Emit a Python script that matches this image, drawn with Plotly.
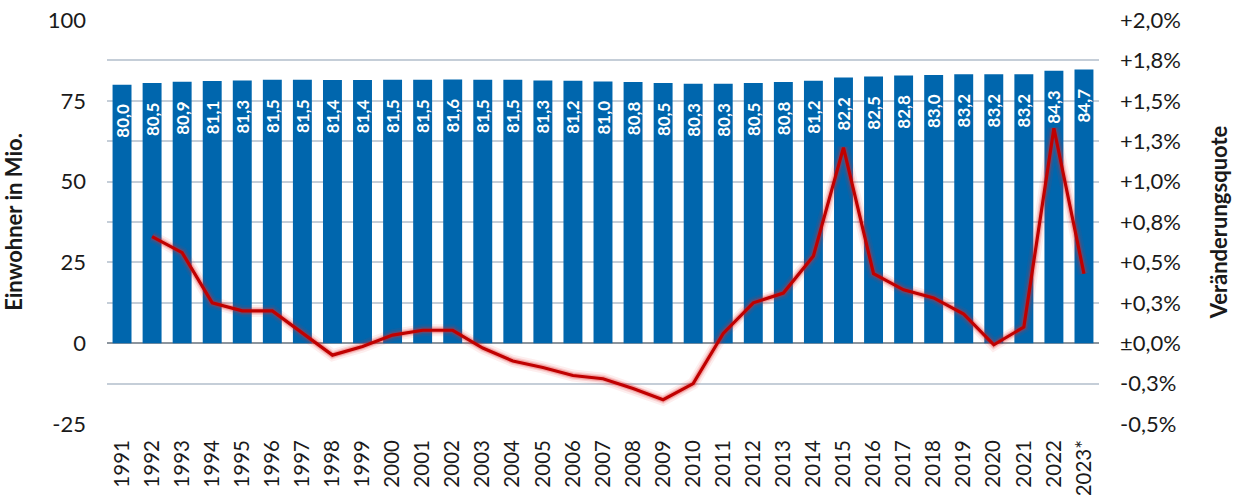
import plotly.graph_objects as go

years = ["1991","1992","1993","1994","1995","1996","1997","1998","1999","2000",
         "2001","2002","2003","2004","2005","2006","2007","2008","2009","2010",
         "2011","2012","2013","2014","2015","2016","2017","2018","2019","2020",
         "2021","2022","2023*"]
population = [80.0,80.5,80.9,81.1,81.3,81.5,81.5,81.4,81.4,81.5,
              81.5,81.6,81.5,81.5,81.3,81.2,81.0,80.8,80.5,80.3,
              80.3,80.5,80.8,81.2,82.2,82.5,82.8,83.0,83.2,83.2,
              83.2,84.3,84.7]
change_pct = [None,0.66,0.56,0.25,0.20,0.20,0.06,-0.074,-0.02,0.05,
              0.08,0.08,-0.03,-0.11,-0.15,-0.20,-0.22,-0.28,-0.35,-0.25,
              0.06,0.25,0.31,0.54,1.21,0.43,0.33,0.28,0.18,-0.01,
              0.10,1.33,0.43]
left_ticks = [-25,-12.5,0,12.5,25,37.5,50,62.5,75,87.5,100]
left_labels = ["-25","","0","","25","","50","","75","","100"]
right_ticks = [-0.5,-0.25,0,0.25,0.5,0.75,1.0,1.25,1.5,1.75,2.0]
right_labels = ["-0,5%","-0,3%","±0,0%","+0,3%","+0,5%","+0,8%","+1,0%","+1,3%","+1,5%","+1,8%","+2,0%"]

FONT = "Lato, 'Open Sans', sans-serif"
bar_text = [f"{v:.1f}".replace(".", ",") + "\u00a0\u00a0\u00a0\u00a0" for v in population]

fig = go.Figure()
fig.add_trace(go.Bar(
    x=years, y=population, marker_color="#0066AD", marker_line_width=0,
    text=bar_text, textposition="inside", insidetextanchor="end", textangle=-90,
    textfont=dict(color="white", size=17, family=FONT, weight="bold"),
    showlegend=False, hoverinfo="x+y"))
# glow layers
for w, a in [(12, 0.08), (8, 0.15), (5.5, 0.25)]:
    fig.add_trace(go.Scatter(x=years, y=change_pct, yaxis="y2", mode="lines",
                             line=dict(color=f"rgba(230,40,40,{a})", width=w),
                             showlegend=False, hoverinfo="skip"))
fig.add_trace(go.Scatter(x=years, y=change_pct, yaxis="y2", mode="lines",
                         line=dict(color="#C00000", width=3.2),
                         showlegend=False))

fig.update_layout(
    width=1237, height=495,
    margin=dict(l=107, r=138, t=20, b=71),
    paper_bgcolor="white", plot_bgcolor="white",
    font=dict(family=FONT, color="#1a1a1a", size=22),
    bargap=0.37,
    uniformtext=dict(minsize=17, mode="show"),
    xaxis=dict(type="category", tickangle=-90, tickfont=dict(size=20.5),
               showgrid=False, showline=False, ticks="", ticklen=0,
               ticklabelstandoff=11, automargin=False),
    yaxis=dict(range=[-25, 100], tickvals=left_ticks, ticktext=left_labels,
               showgrid=True, gridcolor="#C5CED8", gridwidth=1.5,
               zeroline=True, zerolinecolor="#8C959E", zerolinewidth=2,
               title=dict(text="<b>Einwohner in Mio.</b>", font=dict(size=22), standoff=19),
               ticks="", ticklabelstandoff=20, automargin=False),
    yaxis2=dict(range=[-0.5, 2.0], tickvals=right_ticks, ticktext=right_labels,
                overlaying="y", side="right", showgrid=False, zeroline=False,
                title=dict(text="<b>Veränderungsquote</b>", font=dict(size=22), standoff=31),
                ticks="", ticklabelstandoff=20, automargin=False),
)
fig.write_html("out.html", config={"displayModeBar": False},
               post_script="document.body.style.margin='0';document.body.style.padding='0';")
